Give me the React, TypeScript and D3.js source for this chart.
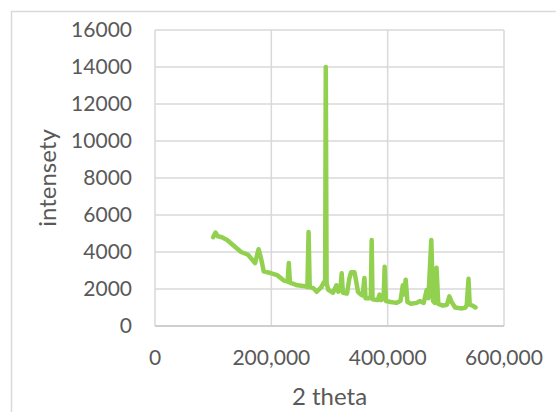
import React from 'react';
import * as d3 from 'd3';

// 2 theta / intensity pairs
const twoTheta = [
  100000, 104000, 108000, 115000, 124000, 135000, 148000, 160000, 172000, 178000,
  182000, 187000, 200000, 210000, 222000, 228000, 230000, 232000, 245000, 258000,
  262000, 264000, 266000, 272000, 278000, 286000, 290000, 292500, 293600, 295000,
  298000, 306000, 312000, 315000, 319000, 321000, 323000, 330000, 334000, 337000,
  343000, 346000, 349000, 354000, 357000, 360000, 362000, 368000, 371000, 372500,
  374000, 383000, 386000, 389000, 393000, 394800, 397000, 405000, 415000, 422000,
  426000, 428000, 431000, 434000, 440000, 450000, 455000, 462000, 467000, 470000,
  475000, 478000, 481000, 484000, 487000, 495000, 502000, 506000, 510000, 516000,
  528000, 534000, 536000, 539000, 541000, 546000, 551000,
];
const intensity = [
  4800, 5050, 4850, 4800, 4650, 4350, 4000, 3850, 3400, 4150,
  3700, 2950, 2850, 2750, 2450, 2400, 3400, 2350, 2200, 2150,
  2100, 5080, 2100, 2050, 1850, 2100, 2350, 2300, 14000, 2300,
  1950, 1800, 2200, 1850, 2100, 2850, 1800, 1750, 2550, 2900,
  2900, 2400, 1850, 1700, 1650, 2600, 1500, 1500, 1600, 4650,
  1450, 1400, 1700, 1400, 1500, 3200, 1350, 1300, 1250, 1350,
  2200, 1700, 2500, 1300, 1200, 1250, 1350, 1250, 1950, 1500,
  4650, 1350, 1250, 3150, 1200, 1100, 1150, 1600, 1300, 1000,
  950, 1000, 1150, 2550, 1150, 1100, 1000,
];
const xTicks = [0, 200000, 400000, 600000];
const yTicks = [0, 2000, 4000, 6000, 8000, 10000, 12000, 14000, 16000];

const W = 556;
const H = 412;
const left = 155;
const right = 504;
const top = 30;
const bottom = 326;

const font = 'Lato, "Open Sans", sans-serif';
const textColor = '#595959';
const gridColor = '#d9d9d9';

export default function App() {
  const x = d3.scaleLinear().domain([0, 600000]).range([left, right]);
  const y = d3.scaleLinear().domain([0, 16000]).range([bottom, top]);
  const pts = twoTheta.map((t, i) => [t, intensity[i]] as [number, number]);
  const line = d3.line<[number, number]>().x(d => x(d[0])).y(d => y(d[1]));
  const fmt = d3.format(',');

  return (
    <svg width={W} height={H} style={{ position: 'absolute', left: 0, top: 0, background: '#fff' }}>
      <rect x={11.5} y={11.5} width={W + 20} height={H + 20} fill="#fff" stroke={gridColor} strokeWidth={1.5} />
      {yTicks.map(t => (
        <line key={'gy' + t} x1={left} x2={right} y1={y(t)} y2={y(t)} stroke={gridColor} strokeWidth={1.5} />
      ))}
      {xTicks.map(t => (
        <line key={'gx' + t} x1={x(t)} x2={x(t)} y1={top} y2={bottom} stroke={gridColor} strokeWidth={1.5} />
      ))}
      <line x1={left} x2={right} y1={bottom} y2={bottom} stroke="#c8c8c8" strokeWidth={1.5} />
      <path d={line(pts) || ''} fill="none" stroke="#92d050" strokeWidth={4.5} strokeLinejoin="round" strokeLinecap="round" />
      {yTicks.map(t => (
        <text key={'ty' + t} x={132} y={y(t)} dy="0.35em" textAnchor="end" fontFamily={font} fontSize={21} fill={textColor}>
          {t}
        </text>
      ))}
      {xTicks.map(t => (
        <text key={'tx' + t} x={x(t)} y={358} dy="0.35em" textAnchor="middle" fontFamily={font} fontSize={21} fill={textColor}>
          {fmt(t)}
        </text>
      ))}
      <text
        transform={`translate(48,${(top + bottom) / 2}) rotate(-90)`}
        dy="0.35em"
        textAnchor="middle"
        fontFamily={font}
        fontSize={24}
        fill={textColor}
      >
        intensety
      </text>
      <text x={(left + right) / 2} y={397} dy="0.35em" textAnchor="middle" fontFamily={font} fontSize={24} fill={textColor}>
        2 theta
      </text>
    </svg>
  );
}
